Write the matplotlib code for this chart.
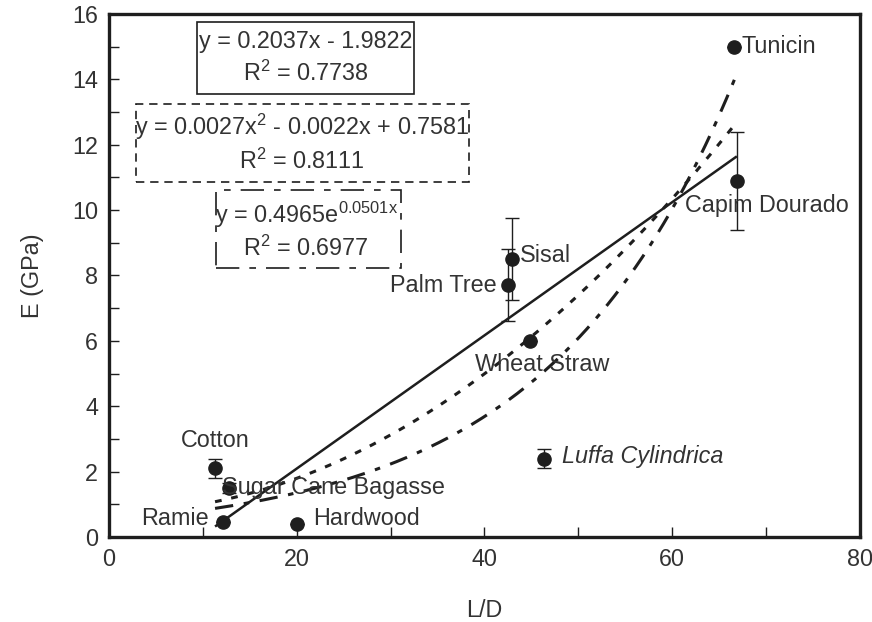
import matplotlib
matplotlib.use("Agg")
import matplotlib.pyplot as plt
import numpy as np
from matplotlib.patches import Rectangle
from matplotlib.ticker import MultipleLocator

plt.rcParams['font.family'] = ['Liberation Sans', 'DejaVu Sans']
plt.rcParams['mathtext.fontset'] = 'custom'
plt.rcParams['mathtext.rm'] = 'Liberation Sans'
plt.rcParams['mathtext.it'] = 'Liberation Sans:italic'
plt.rcParams['mathtext.default'] = 'regular'

# ---- data ----
fibers = ["Tunicin", "Capim Dourado", "Sisal", "Palm Tree", "Wheat Straw",
          "Luffa Cylindrica", "Cotton", "Sugar Cane Bagasse", "Ramie", "Hardwood"]
ld = [66.6, 66.9, 42.9, 42.5, 44.9, 46.4, 11.3, 12.8, 12.2, 20.0]
modulus = [15.0, 10.9, 8.5, 7.7, 6.0, 2.4, 2.1, 1.5, 0.45, 0.4]
modulus_err = [0, 1.5, 1.25, 1.1, 0, 0.3, 0.3, 0.15, 0, 0]

lin_coef = (0.2037, -1.9822)
poly_coef = (0.0027, -0.0022, 0.7581)
exp_coef = (0.4965, 0.0501)

eq_lin = ["y = 0.2037x - 1.9822", "R$^2$ = 0.7738"]
eq_poly = ["y = 0.0027x$^2$ - 0.0022x + 0.7581", "R$^2$ = 0.8111"]
eq_exp = ["y = 0.4965e$^{0.0501x}$", "R$^2$ = 0.6977"]

xticks = [0, 20, 40, 60, 80]
yticks = [0, 2, 4, 6, 8, 10, 12, 14, 16]

# ---- figure ----
fig = plt.figure(figsize=(8.72, 6.22), dpi=100)
ax = fig.add_axes([0.125, 0.1367, 0.861, 0.8408])
ax.set_xlim(0, 80)
ax.set_ylim(0, 16)

ink = "#1e1e1e"
txt = "#333333"
fs = 16.8

# trend lines
xs = np.linspace(min(ld), max(ld), 300)
ax.plot(xs, lin_coef[0] * xs + lin_coef[1], color=ink, lw=1.8, solid_capstyle='butt')
ax.plot(xs, poly_coef[0] * xs**2 + poly_coef[1] * xs + poly_coef[2], color=ink,
        lw=2.2, linestyle=(0, (2.2, 3.2)))
ax.plot(xs, exp_coef[0] * np.exp(exp_coef[1] * xs), color=ink,
        lw=2.2, linestyle=(0, (6, 3.5, 1.8, 3.5)))

# data points with error bars
ax.errorbar(ld, modulus, yerr=modulus_err, fmt='o', color=ink, ms=9.5,
            ecolor=ink, elinewidth=1.0, capsize=5, capthick=1.0, zorder=5)

# point labels
label_pos = {
    "Tunicin": (67.4, 15.0, 'left', 'normal'),
    "Capim Dourado": (61.4, 10.15, 'left', 'normal'),
    "Sisal": (43.8, 8.62, 'left', 'normal'),
    "Palm Tree": (41.3, 7.68, 'right', 'normal'),
    "Wheat Straw": (39.0, 5.29, 'left', 'normal'),
    "Luffa Cylindrica": (48.3, 2.45, 'left', 'italic'),
    "Cotton": (7.7, 2.94, 'left', 'normal'),
    "Sugar Cane Bagasse": (12.0, 1.5, 'left', 'normal'),
    "Ramie": (10.6, 0.55, 'right', 'normal'),
    "Hardwood": (21.8, 0.58, 'left', 'normal'),
}
for name in fibers:
    x, y, ha, style = label_pos[name]
    ax.text(x, y, name, ha=ha, va='center', fontsize=fs, color=txt, style=style, zorder=6)

# equation boxes
def eq_box(lines, x0, y0, x1, y1, ls, cx, ys):
    ax.add_patch(Rectangle((x0, y0), x1 - x0, y1 - y0, fill=False, edgecolor=ink,
                           lw=1.2, linestyle=ls, zorder=4))
    for s, y in zip(lines, ys):
        ax.text(cx, y, s, ha='center', va='center', fontsize=fs, color=txt, zorder=6)

eq_box(eq_lin, 9.4, 13.55, 32.55, 15.75, '-', 20.95, [15.17, 14.18])
eq_box(eq_poly, 2.9, 10.86, 38.4, 13.24, (0, (5, 3.5)), 20.6, [12.55, 11.5])
eq_box(eq_exp, 11.4, 8.23, 31.1, 10.61, (0, (14, 6, 4, 6)), 21.0, [9.85, 8.82])

# axes styling
for sp in ax.spines.values():
    sp.set_linewidth(2.4)
    sp.set_color(ink)
ax.set_xticks(xticks)
ax.set_yticks(yticks)
ax.xaxis.set_minor_locator(MultipleLocator(10))
ax.yaxis.set_minor_locator(MultipleLocator(1))
ax.tick_params(which='both', direction='in', length=7, width=1.0, color=ink,
               labelsize=fs, labelcolor=txt)
ax.tick_params(axis='x', pad=8)
ax.tick_params(axis='y', pad=8)
ax.set_xlabel("L/D", fontsize=fs, color=txt, labelpad=20)
ax.set_ylabel("E (GPa)", fontsize=fs, color=txt, labelpad=20)

fig.savefig("out.png", dpi=100)
